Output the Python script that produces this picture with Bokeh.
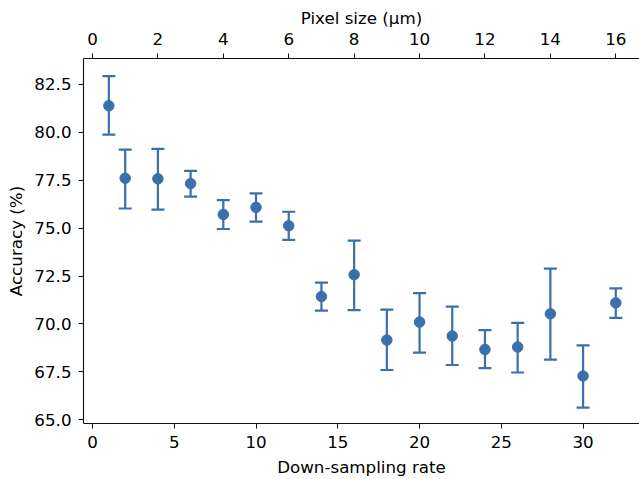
from bokeh.plotting import figure
from bokeh.models import Range1d, LinearAxis, FixedTicker, NumeralTickFormatter, ColumnDataSource
from bokeh.embed import file_html
from bokeh.resources import INLINE

# Data
rate = [1, 2, 4, 6, 8, 10, 12, 14, 16, 18, 20, 22, 24, 26, 28, 30, 32]
acc = [81.38, 77.60, 77.57, 77.32, 75.71, 76.08, 75.12, 71.43, 72.57, 69.16, 70.10, 69.37, 68.67, 68.80, 70.53, 67.29, 71.10]
acc_hi = [82.92, 79.09, 79.13, 77.98, 76.46, 76.81, 75.85, 72.15, 74.34, 70.75, 71.61, 70.90, 69.68, 70.06, 72.88, 68.88, 71.85]
acc_lo = [79.87, 76.02, 75.96, 76.64, 74.95, 75.33, 74.38, 70.69, 70.72, 67.60, 68.50, 67.86, 67.70, 67.47, 68.14, 65.64, 70.32]
bottom_ticks = [0, 5, 10, 15, 20, 25, 30]
top_ticks = [0, 2, 4, 6, 8, 10, 12, 14, 16]
y_ticks = [65.0, 67.5, 70.0, 72.5, 75.0, 77.5, 80.0, 82.5]

COLOR = "#3a70ab"
FONT = "DejaVu Sans"
FS = "16.7px"

x0, x1 = -0.55, 33.45
p = figure(width=639, height=479, output_backend="svg", toolbar_location=None,
           x_range=Range1d(x0, x1), y_range=Range1d(64.81, 83.84),
           min_border_left=83, min_border_right=0, min_border_top=58, min_border_bottom=56)
p.extra_x_ranges = {"top": Range1d(x0 / 2, x1 / 2)}
p.outline_line_color = None
p.grid.visible = False
p.background_fill_color = "white"
p.border_fill_color = "white"

bottom_axis = p.below[0]
left_axis = p.left[0]

src = ColumnDataSource(dict(x=rate, y=acc, hi=acc_hi, lo=acc_lo))
p.segment(x0="x", y0="lo", x1="x", y1="hi", source=src, line_color=COLOR, line_width=2.2)
p.scatter(x="x", y="hi", source=src, marker="dash", size=13, line_color=COLOR, line_width=2.2)
p.scatter(x="x", y="lo", source=src, marker="dash", size=13, line_color=COLOR, line_width=2.2)
p.scatter(x="x", y="y", source=src, marker="circle", size=10.5, fill_color=COLOR, line_color=COLOR)

top_axis = LinearAxis(x_range_name="top", axis_label="Pixel size (µm)")
p.add_layout(top_axis, "above")

for ax in [bottom_axis, left_axis, top_axis]:
    ax.major_label_text_font = FONT
    ax.major_label_text_font_size = FS
    ax.axis_label_text_font = FONT
    ax.axis_label_text_font_size = FS
    ax.axis_label_text_font_style = "normal"
    ax.major_tick_out = 5
    ax.major_tick_in = 0
    ax.minor_tick_out = 0
    ax.minor_tick_in = 0
    ax.axis_line_color = "#111111"
    ax.major_tick_line_color = "#111111"
    ax.axis_line_width = 1.1
    ax.major_label_text_color = "#000000"
    ax.axis_label_text_color = "#000000"

bottom_axis.axis_label = "Down-sampling rate"
bottom_axis.ticker = FixedTicker(ticks=bottom_ticks)
bottom_axis.major_label_standoff = 7
bottom_axis.axis_label_standoff = 6
top_axis.ticker = FixedTicker(ticks=top_ticks)
top_axis.major_label_standoff = 9
top_axis.axis_label_standoff = 2
left_axis.axis_label = "Accuracy (%)"
left_axis.ticker = FixedTicker(ticks=y_ticks)
left_axis.formatter = NumeralTickFormatter(format="0.0")
left_axis.major_label_standoff = 7
left_axis.axis_label_standoff = 5

open("out.html", "w").write(file_html(p, INLINE))
